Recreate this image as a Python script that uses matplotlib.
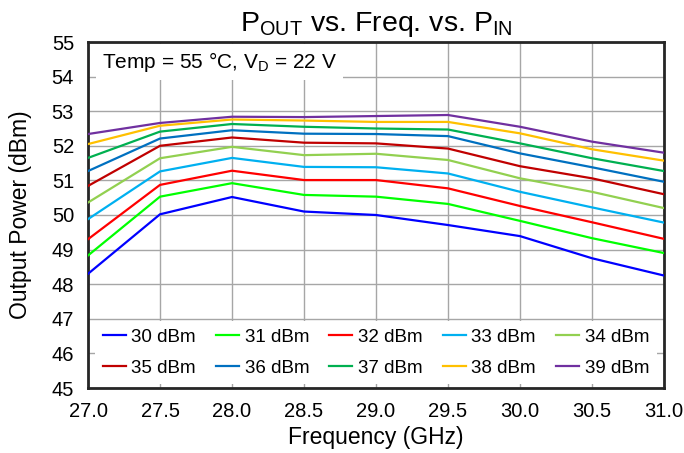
import matplotlib
matplotlib.use("Agg")
import matplotlib.pyplot as plt

plt.rcParams['font.family'] = ['Liberation Sans', 'DejaVu Sans']
plt.rcParams['mathtext.fontset'] = 'custom'
plt.rcParams['mathtext.rm'] = 'Liberation Sans'
plt.rcParams['mathtext.it'] = 'Liberation Sans'

freq = [27.0, 27.5, 28.0, 28.5, 29.0, 29.5, 30.0, 30.5, 31.0]
p30 = [48.30, 50.02, 50.52, 50.10, 50.00, 49.71, 49.39, 48.75, 48.25]
p31 = [48.83, 50.53, 50.92, 50.58, 50.53, 50.32, 49.83, 49.33, 48.90]
p32 = [49.30, 50.87, 51.28, 51.01, 51.01, 50.77, 50.26, 49.79, 49.31]
p33 = [49.88, 51.26, 51.65, 51.39, 51.38, 51.20, 50.67, 50.22, 49.78]
p34 = [50.36, 51.64, 51.97, 51.73, 51.77, 51.59, 51.06, 50.67, 50.20]
p35 = [50.84, 52.00, 52.24, 52.09, 52.07, 51.92, 51.41, 51.06, 50.60]
p36 = [51.27, 52.21, 52.45, 52.35, 52.34, 52.28, 51.78, 51.38, 50.96]
p37 = [51.65, 52.41, 52.63, 52.55, 52.50, 52.47, 52.07, 51.64, 51.27]
p38 = [52.05, 52.58, 52.76, 52.73, 52.69, 52.69, 52.36, 51.90, 51.57]
p39 = [52.34, 52.66, 52.84, 52.83, 52.86, 52.89, 52.55, 52.12, 51.80]
labels = ['30 dBm', '31 dBm', '32 dBm', '33 dBm', '34 dBm',
          '35 dBm', '36 dBm', '37 dBm', '38 dBm', '39 dBm']
series = [p30, p31, p32, p33, p34, p35, p36, p37, p38, p39]
colors = ['#0000FF', '#00FF00', '#FF0000', '#00B0F0', '#92D050',
          '#C00000', '#0070C0', '#00B050', '#FFC000', '#7030A0']
xticks = [27.0, 27.5, 28.0, 28.5, 29.0, 29.5, 30.0, 30.5, 31.0]
yticks = list(range(45, 56))

fig = plt.figure(figsize=(6.84, 4.53), dpi=100)
ax = fig.add_axes([88/684, 1-388/453, (664-88)/684, (388-42)/453])

handles = []
for y, lab, c in zip(series, labels, colors):
    h, = ax.plot(freq, y, color=c, lw=1.6, label=lab, zorder=3)
    handles.append(h)

ax.set_xlim(27, 31)
ax.set_ylim(45, 55)
ax.set_xticks(xticks)
ax.set_xticklabels([f"{v:.1f}" for v in xticks])
ax.set_yticks(yticks)
ax.grid(True, color='#A6A6A6', lw=1.0, zorder=0)
ax.tick_params(axis='both', length=0, labelsize=14.5, colors='black')
ax.tick_params(axis='x', pad=10)
ax.tick_params(axis='y', pad=10)
for s in ax.spines.values():
    s.set_linewidth(2.0)
    s.set_color('#262626')

ax.set_xlabel('Frequency (GHz)', fontsize=16.5, labelpad=4)
ax.set_ylabel('Output Power (dBm)', fontsize=16.5, labelpad=14)
ax.set_title(r'P$_{\mathrm{OUT}}$ vs. Freq. vs. P$_{\mathrm{IN}}$', fontsize=20.5, pad=8)

ax.text(0.0243, 0.942, r'Temp = 55 °C, V$_{\mathrm{D}}$ = 22 V', transform=ax.transAxes,
        fontsize=15, va='center', ha='left', zorder=5,
        bbox=dict(facecolor='white', edgecolor='none', pad=4))

# column-major order so rows read 30..34 and 35..39
order = [0, 5, 1, 6, 2, 7, 3, 8, 4, 9]
leg = ax.legend([handles[i] for i in order], [labels[i] for i in order],
                ncol=5, loc='lower center', bbox_to_anchor=(0.5, 0.0),
                fontsize=13.5, frameon=True, fancybox=False, framealpha=1,
                edgecolor='none', facecolor='white', handlelength=1.23,
                handletextpad=0.3, columnspacing=1.07, borderaxespad=0.2,
                labelspacing=0.75)
leg.set_zorder(6)

fig.savefig('out.png', dpi=100)
